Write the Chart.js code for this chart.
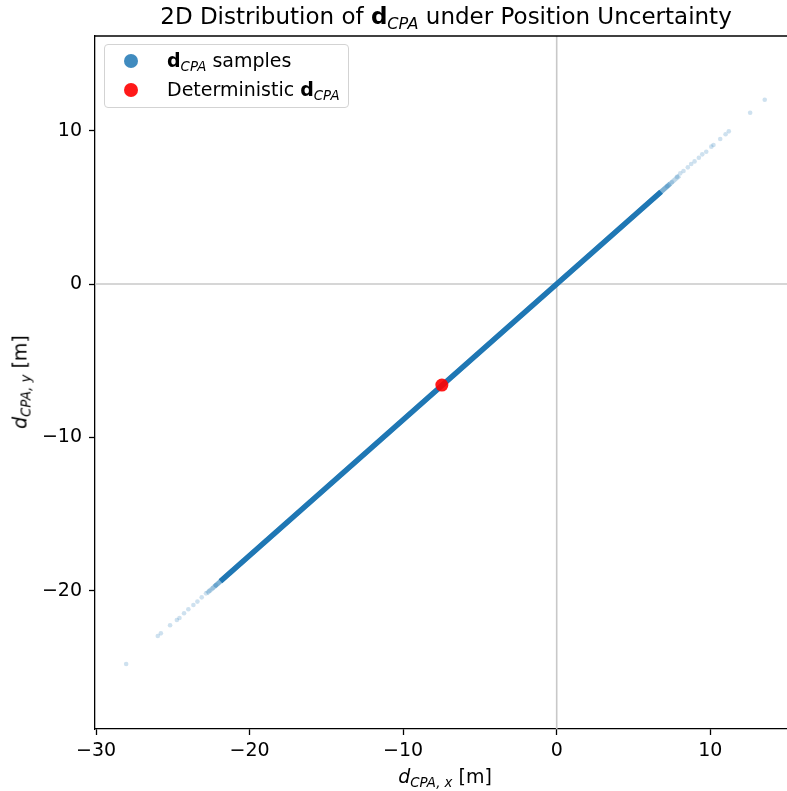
<!DOCTYPE html>
<html>
<head>
<meta charset="utf-8">
<script src="https://cdn.jsdelivr.net/npm/chart.js@4.4.1/dist/chart.umd.min.js"></script>
<style>
  body { margin: 0; background: #fff; overflow: hidden; }
  #wrap { position: relative; width: 787px; height: 791px; overflow: hidden; font-family: 'DejaVu Sans', sans-serif; color: #000; }
  canvas { position: absolute; left: 0; top: 0; }
  .txt { position: absolute; white-space: nowrap; line-height: 1; }
  .sub { font-size: 0.7em; font-style: italic; position: relative; top: 0.28em; }
  #legend { position: absolute; left: 104px; top: 44px; width: 243px; height: 62px;
            border: 1px solid #d3d3d3; border-radius: 4px; background: rgba(255,255,255,0.8); }
  .dot { position: absolute; width: 14px; height: 14px; border-radius: 50%; }
</style>
</head>
<body>
<div id="wrap">
  <canvas id="chart" width="787" height="791"></canvas>
  <div class="txt" id="title" style="font-size:23px; left:446px; top:5px; transform:translateX(-50%);">2D Distribution of <b>d</b><span class="sub">CPA</span> under Position Uncertainty</div>
  <div class="txt" style="font-size:19px; left:445px; top:767px; transform:translateX(-50%);"><i>d</i><span class="sub">CPA, x</span> [m]</div>
  <div class="txt" style="font-size:19px; left:20px; top:382px; transform:translate(-50%,-50%) rotate(-90deg);"><i>d</i><span class="sub">CPA, y</span> [m]</div>
  <div id="legend"></div>
  <div class="dot" style="left:124px; top:54px; background:rgba(31,119,180,0.85);"></div>
  <div class="txt" style="font-size:19px; left:167px; top:51px;"><b>d</b><span class="sub">CPA</span> samples</div>
  <div class="dot" style="left:124px; top:83px; background:rgba(255,0,0,0.9);"></div>
  <div class="txt" style="font-size:19px; left:167px; top:80px;">Deterministic <b>d</b><span class="sub">CPA</span></div>
</div>
<script>
// axis limits and ticks
const xMin = -30.07, xMax = 15.0;
const yMin = -29.03, yMax = 16.18;
const xTicks = [-30, -20, -10, 0, 10];
const yTicks = [-20, -10, 0, 10];

// dense part of the sample cloud (solid band) and its fading ends
const coreX = [-21.9, 6.8];
const coreY = [-19.39, 6.02];
const fadeX = [-22.3, 7.4];
const fadeY = [-19.75, 6.55];
const fade2X = [-22.8, 8.0];
const fade2Y = [-20.19, 7.08];

// sparse samples in the two tails
const sampleX = [-28.04, -25.98, -25.78, -25.18, -24.74, -24.57, -24.27, -23.99, -23.66, -23.40, -23.12, -22.84, -22.62, -22.40, -22.20,
                 7.20, 7.50, 7.83, 8.05, 8.26, 8.54, 8.76, 8.98, 9.26, 9.48, 9.74, 10.07, 10.21, 10.65, 11.00, 11.21, 12.60, 13.55];
const sampleY = [-24.79, -22.96, -22.79, -22.26, -21.92, -21.79, -21.48, -21.22, -20.94, -20.72, -20.44, -20.18, -20.01, -19.84, -19.66,
                 6.38, 6.64, 7.00, 7.22, 7.37, 7.61, 7.83, 8.00, 8.24, 8.46, 8.63, 8.96, 9.07, 9.46, 9.77, 9.96, 11.17, 12.02];

// deterministic d_CPA
const detX = [-7.48];
const detY = [-6.59];

function pts(xs, ys) {
  return xs.map((x, i) => ({ x: x, y: ys[i] }));
}

function fmt(v) {
  return v < 0 ? '\u2212' + Math.abs(v) : String(v);
}

// matplotlib-like top spine (no right spine visible in the picture)
const topSpine = {
  id: 'topSpine',
  afterDraw(chart) {
    const ctx = chart.ctx, a = chart.chartArea;
    ctx.save();
    ctx.strokeStyle = '#000';
    ctx.lineWidth = 1.3;
    ctx.beginPath();
    ctx.moveTo(a.left, a.top);
    ctx.lineTo(a.right, a.top);
    ctx.stroke();
    ctx.restore();
  }
};

const tickFont = { family: 'DejaVu Sans', size: 19 };

new Chart(document.getElementById('chart').getContext('2d'), {
  type: 'scatter',
  data: {
    datasets: [
      { data: pts(detX, detY), pointRadius: 6.5, pointBackgroundColor: 'rgba(255,0,0,0.9)', pointBorderWidth: 0, order: 1 },
      { data: pts(sampleX, sampleY), pointRadius: 2.3, pointBackgroundColor: 'rgba(31,119,180,0.22)', pointBorderWidth: 0, order: 2 },
      { data: pts(coreX, coreY), showLine: true, pointRadius: 0, borderColor: '#1f77b4', borderWidth: 5.5, order: 3 },
      { data: pts(fadeX, fadeY), showLine: true, pointRadius: 0, borderColor: 'rgba(31,119,180,0.4)', borderWidth: 5, order: 4 },
      { data: pts(fade2X, fade2Y), showLine: true, pointRadius: 0, borderColor: 'rgba(31,119,180,0.3)', borderWidth: 4.5, order: 4 },
      { data: pts([0, 0], [yMin, yMax]), showLine: true, pointRadius: 0, borderColor: '#c8c8c8', borderWidth: 1.6, order: 5 },
      { data: pts([xMin, xMax], [0, 0]), showLine: true, pointRadius: 0, borderColor: '#c8c8c8', borderWidth: 1.6, order: 5 }
    ]
  },
  options: {
    responsive: false,
    animation: false,
    events: [],
    devicePixelRatio: 1,
    layout: { autoPadding: false, padding: { top: 36, right: 0, left: 0, bottom: 0 } },
    plugins: { legend: { display: false }, tooltip: { enabled: false }, title: { display: false } },
    scales: {
      x: {
        type: 'linear', min: xMin, max: xMax,
        afterBuildTicks: s => { s.ticks = xTicks.map(v => ({ value: v })); },
        afterFit: s => { s.height = 62; s.paddingLeft = 0; s.paddingRight = 0; },
        ticks: { font: tickFont, color: '#000', padding: 5, maxRotation: 0, callback: fmt },
        grid: { drawOnChartArea: false, tickLength: 6, tickColor: '#000', tickWidth: 1.3 },
        border: { display: true, color: '#000', width: 1.3 }
      },
      y: {
        type: 'linear', min: yMin, max: yMax,
        afterBuildTicks: s => { s.ticks = yTicks.map(v => ({ value: v })); },
        afterFit: s => { s.width = 95; },
        ticks: { font: tickFont, color: '#000', padding: 7, callback: fmt },
        grid: { drawOnChartArea: false, tickLength: 6, tickColor: '#000', tickWidth: 1.3 },
        border: { display: true, color: '#000', width: 1.3 }
      }
    }
  },
  plugins: [topSpine]
});
</script>
</body>
</html>
